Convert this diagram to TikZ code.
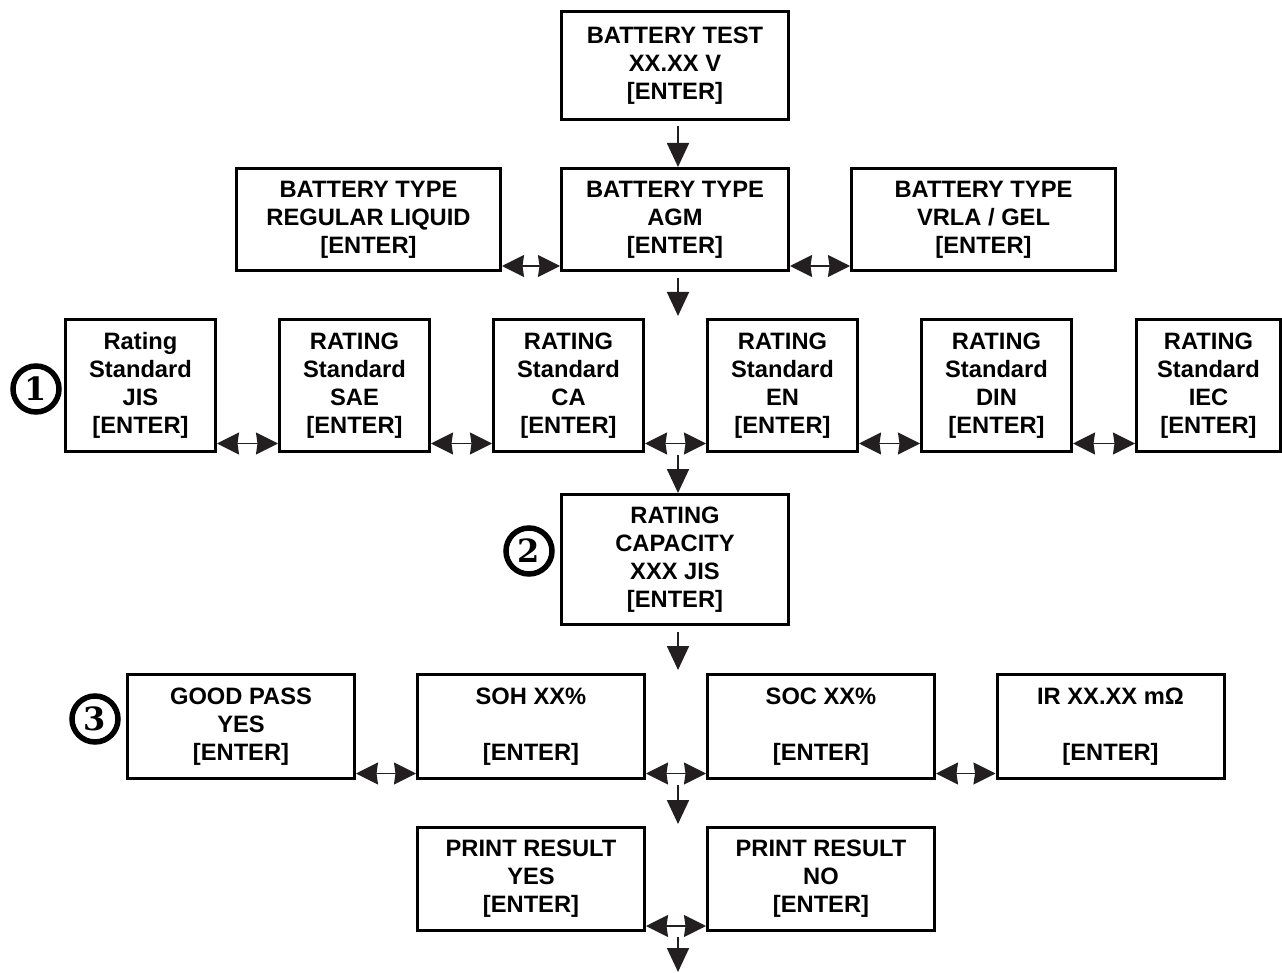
\documentclass[tikz,border=0pt]{standalone}
\usepackage{fontspec}
\setmainfont{Liberation Sans}
\newfontfamily\numfont{DejaVu Serif}
\usetikzlibrary{arrows.meta}
\definecolor{arrowc}{HTML}{231F20}
\newcommand\ENT{\relax[ENTER]}
\begin{document}
\begin{tikzpicture}[x=1pt,y=-1pt,
  box/.style={draw=black, line width=3pt, inner sep=0pt, align=center,
    font=\fontsize{23.7}{28}\selectfont\bfseries},
  wide/.style={box, minimum width=227pt},
  rate/.style={box, minimum width=150pt, minimum height=132pt},
  dbl/.style={draw=arrowc, line width=1.6pt,
    {Triangle[length=22pt,width=22pt,inset=1.5pt]}-{Triangle[length=22pt,width=22pt,inset=1.5pt]}},
  down/.style={draw=arrowc, line width=1.8pt, -{Triangle[length=24pt,width=22pt]}},
  num/.style={circle, draw=black, line width=5.5pt, minimum size=46pt, inner sep=0pt,
    font=\numfont\bfseries\fontsize{32}{32}\selectfont}
]
\useasboundingbox (0,0) rectangle (1282,973);

% top
\node[wide, minimum height=108pt] (test) at (675,65.5) {BATTERY TEST\\XX.XX V\\\ENT};

% battery type row
\node[box, minimum width=264pt, minimum height=102pt] (btliq) at (368.5,219.5) {BATTERY TYPE\\REGULAR LIQUID\\\ENT};
\node[wide, minimum height=102pt] (btagm) at (675,219.5) {BATTERY TYPE\\AGM\\\ENT};
\node[box, minimum width=264pt, minimum height=102pt] (btgel) at (983.5,219.5) {BATTERY TYPE\\VRLA / GEL\\\ENT};

% rating row
\node[rate] (jis) at (140.5,385.5) {Rating\\Standard\\JIS\\\ENT};
\node[rate] (sae) at (354.5,385.5) {RATING\\Standard\\SAE\\\ENT};
\node[rate] (ca)  at (568.5,385.5) {RATING\\Standard\\CA\\\ENT};
\node[rate] (en)  at (782.5,385.5) {RATING\\Standard\\EN\\\ENT};
\node[rate] (din) at (996.5,385.5) {RATING\\Standard\\DIN\\\ENT};
\node[rate, minimum width=144pt] (iec) at (1208.5,385.5) {RATING\\Standard\\IEC\\\ENT};

% capacity
\node[wide, minimum height=130pt] (cap) at (675,559.5) {RATING\\CAPACITY\\XXX JIS\\\ENT};

% result row
\node[wide, minimum height=104pt] (good) at (241,726.5) {GOOD PASS\\YES\\\ENT};
\node[wide, minimum height=104pt] (soh) at (531,726.5) {SOH XX\%\\\strut\\\ENT};
\node[wide, minimum height=104pt] (soc) at (821,726.5) {SOC XX\%\\\strut\\\ENT};
\node[wide, minimum height=104pt] (ir) at (1110.5,726.5) {IR XX.XX mΩ\\\strut\\\ENT};

% print row
\node[wide, minimum height=103pt] (pyes) at (531,879) {PRINT RESULT\\YES\\\ENT};
\node[wide, minimum height=103pt] (pno) at (821,879) {PRINT RESULT\\NO\\\ENT};

% numbered circles
\node[num] (c1) at (36,389) {1};
\node[num] (c2) at (529,551) {2};
\node[num] (c3) at (95,719) {3};

% down arrows
\coordinate (d1) at (678,126);
\draw[down] (d1) -- (d1 |- btagm.north);
\coordinate (d2s) at (678,278);
\coordinate (d2e) at (678,316);
\draw[down] (d2s) -- (d2e);
\coordinate (d3) at (678,455);
\draw[down] (d3) -- (d3 |- cap.north);
\coordinate (d4s) at (678,632);
\coordinate (d4e) at (678,670);
\draw[down] (d4s) -- (d4e);
\coordinate (d5s) at (678,785);
\coordinate (d5e) at (678,824);
\draw[down] (d5s) -- (d5e);
\coordinate (d6s) at (678,937);
\coordinate (d6e) at (678,972);
\draw[down] (d6s) -- (d6e);

% double arrows
\draw[dbl] ([yshift=6pt]btliq.south east) -- ([yshift=6pt]btagm.south west);
\draw[dbl] ([yshift=6pt]btagm.south east) -- ([yshift=6pt]btgel.south west);
\draw[dbl] ([yshift=9.5pt]jis.south east) -- ([yshift=9.5pt]sae.south west);
\draw[dbl] ([yshift=9.5pt]sae.south east) -- ([yshift=9.5pt]ca.south west);
\draw[dbl] ([yshift=9.5pt]ca.south east) -- ([yshift=9.5pt]en.south west);
\draw[dbl] ([yshift=9.5pt]en.south east) -- ([yshift=9.5pt]din.south west);
\draw[dbl] ([yshift=9.5pt]din.south east) -- ([yshift=9.5pt]iec.south west);
\draw[dbl] ([yshift=6.5pt]good.south east) -- ([yshift=6.5pt]soh.south west);
\draw[dbl] ([yshift=6.5pt]soh.south east) -- ([yshift=6.5pt]soc.south west);
\draw[dbl] ([yshift=6.5pt]soc.south east) -- ([yshift=6.5pt]ir.south west);
\draw[dbl] ([yshift=6pt]pyes.south east) -- ([yshift=6pt]pno.south west);
\end{tikzpicture}
\end{document}
